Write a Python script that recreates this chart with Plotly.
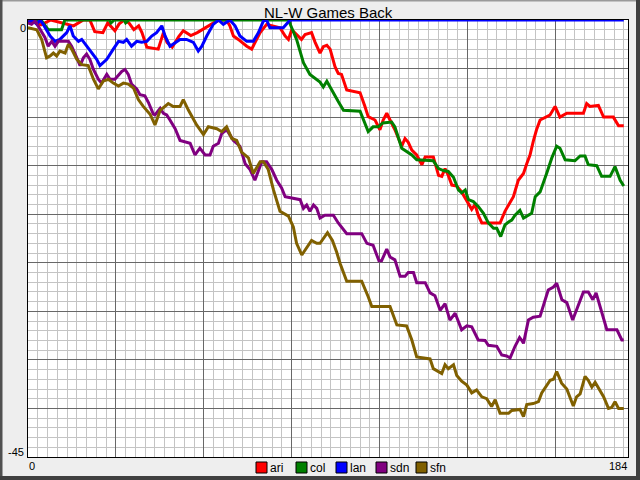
import plotly.graph_objects as go

# ---------------- data (games back) ----------------
teams = ["ari", "col", "lan", "sdn", "sfn"]
team_colors = ["#ff0000", "#008000", "#0000ff", "#800080", "#806000"]

ari_g = [0, 4, 7, 11, 14, 17, 19, 20.5, 23, 24.5,
         26.7, 28, 29.5, 31, 32.5, 34, 35, 36.5, 40, 41.6,
         42.7, 44.3, 46.3, 47.7, 50, 52, 53.4, 55.4, 57, 59,
         61, 62, 63.1, 64.6, 67.2, 68.7, 69.7, 71.3, 73.3, 75.4,
         77.4, 79, 80, 81, 82.6, 84, 85.1, 87.1, 88.2, 89.7,
         90.7, 91.8, 92.8, 94.3, 95.3, 96.3, 97.9, 102, 103.5, 104.5,
         106.6, 108.1, 109.1, 110.2, 111.2, 112.7, 114.8, 115.8, 116.8, 117.9,
         119.4, 121, 122, 124.5, 126.1, 127.1, 128.1, 129.1, 130.2, 131.7,
         133.2, 135.3, 136.3, 137.3, 138.3, 139.4, 145, 146.5, 147.6, 149.1,
         150.6, 152.2, 153.2, 154.2, 155.2, 156.2, 157.3, 159.3, 160.3, 161.9,
         163.4, 165.5, 170.6, 171.6, 172.6, 175.2, 176.8, 179.8, 181.4, 183]
ari_gb = [0, -0.5, 0, -0.3, -0.6, 0, 0, -1.2, -1.3, -0.3,
          -1.1, -0.4, 0, -0.3, -1.0, -0.6, -1.3, -2.8, -3.0, -1.3,
          -2.3, -2.8, -1.7, -1.1, -1.6, -1.3, -1.0, -0.6, -0.3, 0,
          0, -0.6, -1.65, -2.0, -2.7, -3.0, -2.3, -1.3, -0.45, -0.6,
          -0.8, -1.65, -2.0, -1.0, -1.5, -2.0, -1.5, -1.3, -2.3, -3.4,
          -2.75, -2.6, -3.0, -4.8, -5.5, -5.6, -7.2, -7.5, -8.9, -9.96,
          -10.3, -11.3, -10.3, -9.6, -10.3, -11.3, -13.0, -12.2, -12.6, -13.4,
          -13.9, -14.9, -14.1, -14.1, -16.0, -16.1, -15.3, -16.0, -17.0, -17.1,
          -17.7, -18.9, -19.5, -19.0, -20.1, -20.9, -20.9, -19.7, -19.05, -18.2,
          -16.5, -15.8, -14.8, -13.9, -12.5, -11.3, -10.3, -10.0, -9.8, -8.9,
          -10.0, -9.6, -9.6, -8.6, -8.9, -8.8, -10.0, -10.0, -10.9, -10.9]

col_g = [0, 2, 4, 6.2, 10.3, 11.3, 25, 25.5, 26.5, 29.5,
         30, 31, 80, 82.5, 84.6, 86.6, 89.7, 90.7, 91.8, 92.8,
         94.3, 95.3, 96.9, 102, 104.5, 106, 107.6, 109, 111.7, 112.7,
         114.8, 116.3, 117.9, 119.4, 124.5, 126.1, 127.6, 129.1, 130.7, 132.2,
         133.2, 134.3, 135.3, 136.8, 138.3, 139.9, 141.4, 143, 144, 145.2,
         146.5, 147.6, 148.6, 149.6, 151.1, 152.2, 153.7, 154.7, 155.8, 157.3,
         159.3, 160.9, 162.4, 163.4, 165, 168, 169.6, 171.1, 172.1, 174.7,
         176.2, 178.8, 180.3, 181.9, 183]
col_gb = [-0.3, 0, 0, -1.0, -1.0, 0, 0, -0.3, 0, 0,
          -0.3, 0, 0, -2.0, -4.4, -5.6, -6.4, -6.9, -6.3, -6.9,
          -7.9, -8.4, -9.3, -9.4, -11.5, -11.0, -11.0, -10.6, -10.5, -11.0,
          -13.2, -13.5, -13.9, -14.4, -14.5, -15.3, -15.5, -15.6, -16.2, -17.5,
          -17.8, -17.5, -18.5, -18.7, -19.2, -19.9, -20.9, -21.45, -21.45, -22.3,
          -21.1, -20.8, -20.6, -20.1, -19.6, -20.4, -20.1, -19.9, -18.2, -17.7,
          -15.8, -14.2, -13.0, -13.2, -14.4, -14.5, -14.0, -14.0, -14.9, -15.0,
          -16.1, -16.1, -15.1, -16.5, -17.1]

lan_g = [0, 1.6, 2.7, 3.7, 4.7, 6.8, 8.3, 9.8, 11.9, 12.9,
         13.9, 15.5, 16.5, 18, 19.6, 21.1, 22.1, 24.2, 26.2, 27.8,
         29.3, 30.3, 31.8, 33.4, 34.9, 36.5, 38, 39.5, 41.1, 42.1,
         43.6, 45.2, 46.7, 48.7, 50.8, 52.3, 53.4, 54.9, 56.9, 58.5,
         60, 62, 63.6, 65.1, 67.2, 69.2, 70.8, 72.3, 73.3, 74.3,
         78.4, 80.5, 183]
lan_gb = [-0.2, -0.1, -0.45, 0, -0.45, -1.65, -2.2, -2.0, -1.3, -0.6,
          -1.65, -2.2, -2.0, -2.7, -3.4, -4.05, -4.7, -4.05, -3.0, -2.2,
          -2.3, -2.0, -2.7, -2.2, -2.3, -2.2, -1.65, -1.3, -0.6, -1.65,
          -2.7, -2.3, -2.0, -2.0, -2.3, -3.2, -2.7, -1.65, -0.45, 0,
          -0.45, 0, -0.6, -1.65, -2.2, -2.2, -1.3, -0.1, 0, -0.8,
          -0.8, 0, 0]

sdn_g = [0, 1.1, 2.2, 3.7, 5.2, 6.2, 7.3, 8.3, 9.3, 12.4,
         13.4, 15, 16, 17, 18, 19, 20.1, 21.6, 22.6, 24.2,
         25.2, 26.7, 28.8, 29.8, 30.8, 31.8, 33.4, 34.4, 35.9, 37,
         38.5, 39, 40.6, 41.6, 42.6, 43.6, 45.2, 46.7, 49.8, 51.3,
         52.8, 54.4, 55.9, 56.9, 58.5, 59.5, 61, 63.1, 65.1, 66.7,
         68.2, 69.7, 70.8, 71.8, 73.3, 74.9, 76.4, 77.9, 79, 81.5,
         83.6, 84.6, 85.6, 86.6, 87.7, 88.7, 89.7, 91.2, 93.8, 95.3,
         97.9, 102.5, 104.1, 106, 107.8, 108.6, 110.2, 111.2, 112.7, 114.3,
         115.8, 116.8, 118.4, 119.4, 122, 123.5, 125, 126.6, 128.1, 129.6,
         131.2, 133.2, 134.8, 136.3, 138.3, 140.4, 141.4, 144, 145.5, 147,
         148.1, 149.6, 151, 151.7, 152.2, 153.7, 155.2, 157.3, 159.8, 161.4,
         162.4, 164, 165.5, 167.3, 169, 170.6, 172.1, 173.5, 174.5, 175.7,
         177.8, 180.9, 182.4, 183]
sdn_gb = [-0.3, -0.45, -0.1, -1.0, -1.8, -2.7, -2.2, -2.7, -2.2, -2.2,
          -2.7, -3.9, -4.7, -3.9, -3.5, -4.05, -5.1, -6.1, -6.5, -5.6,
          -6.1, -6.1, -5.3, -5.1, -5.6, -6.6, -7.1, -7.7, -7.8, -8.5,
          -9.7, -9.78, -9.1, -9.6, -9.78, -10.3, -11.2, -12.4, -12.7, -13.9,
          -13.2, -13.9, -13.9, -13.0, -12.7, -11.7, -11.3, -12.4, -13.0, -14.8,
          -15.4, -16.5, -15.6, -14.6, -14.6, -15.4, -16.5, -17.3, -18.2, -18.4,
          -18.5, -19.4, -19.05, -19.7, -19.05, -19.4, -20.4, -20.1, -20.1, -20.9,
          -22.0, -22.0, -23.0, -23.2, -24.8, -24.8, -23.6, -24.4, -24.7, -26.4,
          -26.4, -26.0, -26.0, -27.05, -27.05, -28.1, -28.4, -29.9, -29.2, -30.9,
          -30.2, -31.9, -31.5, -31.6, -32.95, -33.0, -33.5, -33.6, -34.5, -34.6,
          -34.8, -33.6, -32.7, -33.0, -33.3, -30.9, -30.6, -30.5, -27.8, -27.5,
          -27.1, -28.8, -29.1, -30.9, -29.3, -28.0, -28.0, -28.8, -28.1, -29.5,
          -31.9, -31.9, -32.95, -32.95]

sfn_g = [0, 2.7, 4.2, 5.7, 6.8, 7.8, 8.8, 9.8, 11.4, 12.4,
         13.4, 15, 16.5, 18.5, 20.1, 21.6, 23.1, 24.7, 26.2, 27.8,
         29.3, 30.8, 32.4, 33.9, 35.4, 37.5, 39, 40.6, 43.1, 44.6,
         46.7, 47.7, 49.3, 51.8, 53.9, 55.4, 58, 59.5, 61, 62.6,
         64.1, 65.6, 67.7, 69.2, 71.3, 72.3, 73.8, 75.4, 77.4, 80,
         81.5, 82.5, 84.1, 85.6, 87.1, 88.7, 89.7, 92, 93.5, 94.8,
         95.9, 97.9, 102.5, 104.5, 105.6, 111.2, 113.3, 116.3, 117.9, 119.4,
         123.5, 124.5, 127.1, 128.1, 129.1, 130.7, 131.7, 133.2, 134.8, 136.3,
         137.8, 139.4, 140.9, 142.4, 143.5, 145, 147.6, 148.6, 151.1, 152.2,
         153.2, 155.2, 156.8, 157.8, 159.3, 160.4, 161.4, 162.4, 163.9, 165.5,
         167.5, 168.5, 169.6, 171.1, 172.1, 173.2, 174.2, 175.7, 176.8, 178.3,
         179.3, 180.3, 181.4, 183]
sfn_gb = [-0.8, -1.0, -2.0, -3.9, -3.7, -3.4, -3.7, -3.2, -3.4, -2.5,
          -3.0, -4.05, -4.6, -4.7, -6.1, -7.1, -6.3, -6.1, -6.5, -6.8,
          -6.5, -6.6, -7.0, -8.2, -8.9, -9.7, -10.8, -9.3, -8.6, -8.9,
          -8.9, -8.2, -9.3, -10.8, -11.8, -11.0, -11.2, -11.5, -11.0, -12.2,
          -12.4, -13.6, -14.2, -15.8, -14.6, -14.6, -15.4, -17.5, -19.7, -20.2,
          -21.3, -23.0, -24.2, -23.5, -22.7, -23.0, -23.0, -21.9, -22.7, -23.9,
          -25.1, -26.9, -26.9, -28.5, -29.5, -29.5, -31.4, -31.5, -32.95, -34.7,
          -34.9, -35.9, -36.4, -35.5, -35.9, -35.5, -36.6, -37.2, -37.6, -38.4,
          -38.1, -38.8, -39.0, -39.8, -39.1, -40.5, -40.5, -40.2, -40.1, -40.85,
          -39.6, -39.5, -39.3, -38.4, -37.7, -37.1, -37.0, -36.2, -37.4, -38.0,
          -39.75, -38.8, -38.5, -36.7, -37.1, -37.8, -37.3, -38.2, -38.8, -40.0,
          -39.9, -39.3, -40.0, -40.0]

x_labels = ["0", "184"]
y_labels = ["0", "-45"]
title_text = "NL-W Games Back"

series_x = [ari_g, col_g, lan_g, sdn_g, sfn_g]
series_y = [ari_gb, col_gb, lan_gb, sdn_gb, sfn_gb]
for sx, sy in zip(series_x, series_y):
    assert len(sx) == len(sy)

# ---------------- layout geometry (pixels) ----------------
W, H = 640, 480
L, R, T, B = 28, 628, 20, 457
PW, PH = R - L, B - T


def fx(px):
    return (px - L) / PW


def fy(py):
    return (B - py) / PH


FONT = "Liberation Sans, Arial, sans-serif"

fig = go.Figure()
for name, col, sx, sy in zip(teams, team_colors, series_x, series_y):
    fig.add_trace(go.Scatter(x=sx, y=sy, mode="lines", name=name,
                             line=dict(color=col, width=3),
                             cliponaxis=False, showlegend=False,
                             hoverinfo="skip"))

shapes = []
# window-like frame
frame_parts = [
    (0, 0, W, 1.5, "#9a9a9a"),
    (0, 0, 2.5, H, "#505050"),
    (W - 4, 0, W, H, "#404040"),
    (0, H - 4, W, H, "#404040"),
]
for x0, y0, x1, y1, c in frame_parts:
    shapes.append(dict(type="rect", xref="paper", yref="paper",
                       x0=fx(x0), x1=fx(x1), y0=fy(y1), y1=fy(y0),
                       fillcolor=c, line=dict(width=0), layer="above"))

annotations = []
# manual legend: coloured squares + names
leg_x0, leg_step, leg_y = 256, 40, 467.5
for i, (name, col) in enumerate(zip(teams, team_colors)):
    sx0 = leg_x0 + i * leg_step
    shapes.append(dict(type="rect", xref="paper", yref="paper",
                       x0=fx(sx0), x1=fx(sx0 + 11), y0=fy(leg_y + 5.5), y1=fy(leg_y - 5.5),
                       fillcolor=col, line=dict(color="black", width=1), layer="above"))
    annotations.append(dict(text=name, xref="paper", yref="paper",
                            x=fx(sx0 + 12.5), y=fy(leg_y), xanchor="left", yanchor="middle",
                            showarrow=False, borderpad=0,
                            font=dict(family=FONT, size=12, color="black")))

# axis end labels
annotations += [
    dict(text=y_labels[0], x=fx(27), y=fy(27.5), xanchor="right", yanchor="middle"),
    dict(text=y_labels[1], x=fx(25), y=fy(452), xanchor="right", yanchor="middle"),
    dict(text=x_labels[0], x=fx(28), y=fy(466), xanchor="left", yanchor="middle"),
    dict(text=x_labels[1], x=fx(628), y=fy(466), xanchor="right", yanchor="middle"),
]
for a in annotations[-4:]:
    a.update(xref="paper", yref="paper", showarrow=False, borderpad=0,
             font=dict(family=FONT, size=11, color="black"))

annotations.append(dict(text=title_text, xref="paper", yref="paper",
                        x=0.5, y=fy(12.5), xanchor="center", yanchor="middle",
                        showarrow=False, borderpad=0,
                        font=dict(family=FONT, size=15, color="black")))

axis_common = dict(showgrid=True, gridcolor="#686868", gridwidth=1,
                   showticklabels=False, ticks="", zeroline=False,
                   showline=True, mirror=True, linecolor="black", linewidth=1,
                   fixedrange=True)

fig.update_layout(
    width=W, height=H,
    margin=dict(l=L, r=W - R, t=T, b=H - B, pad=0),
    paper_bgcolor="#eeeeee", plot_bgcolor="white",
    showlegend=False,
    xaxis=dict(range=[0, 184.3], tick0=0, dtick=27,
               minor=dict(tick0=0, dtick=3, showgrid=True, gridcolor="#c4c4c4", gridwidth=1),
               **axis_common),
    yaxis=dict(range=[-45, 0], tick0=0, dtick=5,
               minor=dict(tick0=0, dtick=1, showgrid=True, gridcolor="#c4c4c4", gridwidth=1),
               **axis_common),
    shapes=shapes,
    annotations=annotations,
)

fig.write_html("out.html", config=dict(displayModeBar=False),
               post_script="document.body.style.margin='0';document.body.style.overflow='hidden';")
